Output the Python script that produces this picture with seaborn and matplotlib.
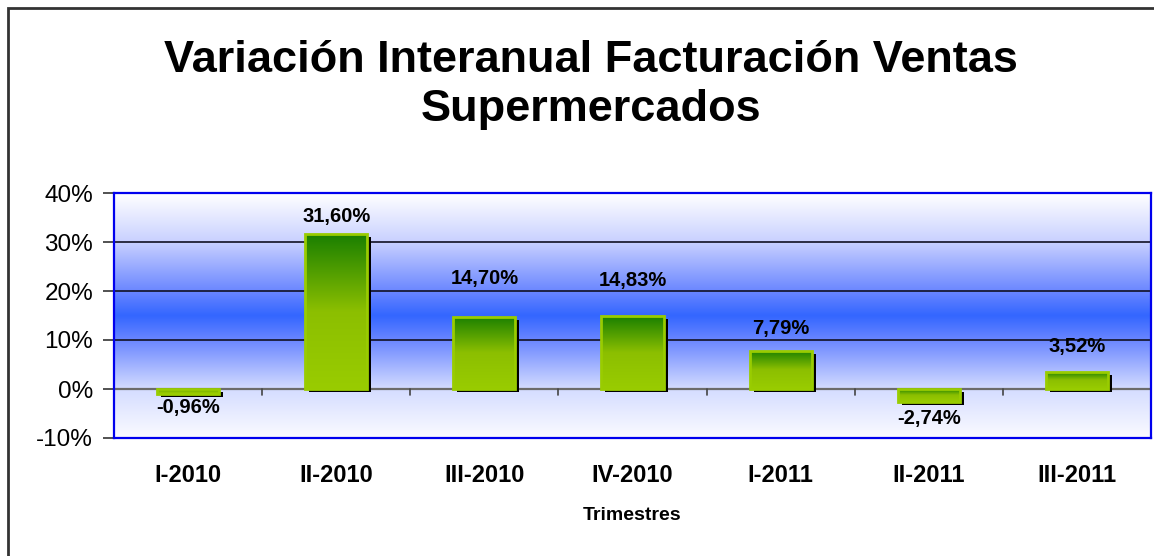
import numpy as np
import pandas as pd
import seaborn as sns
import matplotlib.pyplot as plt
from matplotlib.colors import LinearSegmentedColormap
from matplotlib.patches import Rectangle
from matplotlib.transforms import ScaledTranslation
from matplotlib.ticker import FuncFormatter, FixedLocator

# data
trimestres = ["I-2010", "II-2010", "III-2010", "IV-2010", "I-2011", "II-2011", "III-2011"]
variacion = [-0.96, 31.60, 14.70, 14.83, 7.79, -2.74, 3.52]
etiquetas = ["-0,96%", "31,60%", "14,70%", "14,83%", "7,79%", "-2,74%", "3,52%"]

# label gap (points) from bar end, as the labels sit in the original
gap_etiqueta = [3, 6, 21, 19, 9.5, 5, 11]

df = pd.DataFrame({"Trimestre": trimestres, "Variacion": variacion})

sns.set_style("white")
plt.rcParams["font.family"] = ["Liberation Sans", "DejaVu Sans"]
plt.rcParams["text.color"] = "black"
plt.rcParams["axes.labelcolor"] = "black"
plt.rcParams["xtick.color"] = "black"
plt.rcParams["ytick.color"] = "black"

fig = plt.figure(figsize=(11.54, 5.56), dpi=100)
ax = fig.add_axes([114 / 1154, 1 - 438 / 556, (1151 - 114) / 1154, (438 - 193) / 556])

# outer chart frame
fig.patches.append(Rectangle((8 / 1154, -0.1), 1.2, 1.1 - 8 / 556, transform=fig.transFigure,
                             fill=False, edgecolor="#333333", linewidth=2, zorder=0))

# background gradient of the plot area
bg_cmap = LinearSegmentedColormap.from_list("bg", [
    (0.0, "#fbfbff"), (0.2, "#d4dcff"), (0.4, "#6a86ff"), (0.5, "#3366ff"),
    (0.6, "#6a86ff"), (0.8, "#c8d0ff"), (1.0, "#ffffff")])
grad = np.linspace(0, 1, 256).reshape(-1, 1)
ax.imshow(grad, cmap=bg_cmap, aspect="auto", extent=[0, 1, 0, 1], origin="lower",
          transform=ax.transAxes, zorder=0)

sns.barplot(data=df, x="Trimestre", y="Variacion", ax=ax, width=0.42,
            color="#99cc00", edgecolor="#99cc00", linewidth=2, zorder=3)

# gradient fill + drop shadow on every bar
bar_cmap = LinearSegmentedColormap.from_list("bar", ["#99cc00", "#8cbf00", "#1a7f00"])
shift = ScaledTranslation(4 / 100, -3 / 100, fig.dpi_scale_trans)
for p in ax.patches:
    x0, y0 = p.get_x(), p.get_y()
    w, h = p.get_width(), p.get_height()
    ybot, ytop = min(y0, y0 + h), max(y0, y0 + h)
    ax.add_patch(Rectangle((x0, y0), w, h, facecolor="black", edgecolor="none",
                           transform=ax.transData + shift, zorder=2))
    im = ax.imshow(grad, cmap=bar_cmap, aspect="auto", origin="lower",
                   extent=[x0, x0 + w, ybot, ytop], zorder=3.5)
    im.set_clip_path(p)
    p.set_facecolor("none")
    p.set_zorder(4)

ax.set_xlim(-0.5, len(trimestres) - 0.5)
ax.set_ylim(-10, 40)

# value labels
for i, (v, lab, g) in enumerate(zip(variacion, etiquetas, gap_etiqueta)):
    if v >= 0:
        ax.annotate(lab, (i, v), xytext=(0, g), textcoords="offset points",
                    ha="center", va="bottom", fontsize=14.5, fontweight="bold", zorder=6)
    else:
        ax.annotate(lab, (i, v), xytext=(0, -g), textcoords="offset points",
                    ha="center", va="top", fontsize=14.5, fontweight="bold", zorder=6)

# gridlines
for yv in [10, 20, 30]:
    ax.axhline(yv, color="#111122", linewidth=1.2, zorder=1)
ax.axhline(0, color="#6b6b6b", linewidth=1.6, zorder=1)

# category separator ticks on the zero line
for xb in np.arange(0.5, len(trimestres) - 0.5, 1):
    ax.plot([xb, xb], [0, -1.3], color="#444444", linewidth=1.2, zorder=1.5)

ax.yaxis.set_major_locator(FixedLocator([-10, 0, 10, 20, 30, 40]))
ax.yaxis.set_major_formatter(FuncFormatter(lambda v, _: f"{v:.0f}%"))
ax.tick_params(axis="y", left=True, length=8, width=1.2, color="#333333",
               labelsize=17.5, pad=7)
ax.tick_params(axis="x", bottom=False, labelsize=17, pad=15.5)
for t in ax.get_xticklabels():
    t.set_fontweight("bold")

for s in ax.spines.values():
    s.set_visible(True)
    s.set_color("#0000ee")
    s.set_linewidth(1.6)
    s.set_zorder(7)

ax.set_xlabel("Trimestres", fontsize=14, fontweight="bold", labelpad=14)
ax.set_ylabel("")

fig.text(591 / 1154, 1 - 85 / 556, "Variación Interanual Facturación Ventas\nSupermercados",
         ha="center", va="center", fontsize=32.5, fontweight="bold", linespacing=1.25)

fig.savefig("out.png", dpi=100)
